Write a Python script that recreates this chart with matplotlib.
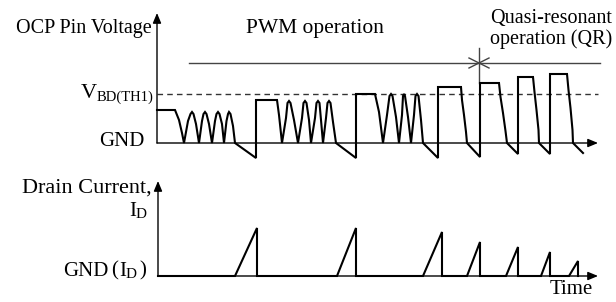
import matplotlib.pyplot as plt

plt.rcParams['font.family'] = ['Liberation Serif', 'DejaVu Serif']

# OCP pin voltage waveform, (x, y) in picture units, y grows downward
ocp_x = [157, 175, 179, 182, 184,
         188, 190.5, 192, 193.5, 196, 199,
         202, 203.5, 205, 206.5, 209, 212,
         215, 216.5, 218, 219.5, 222, 224,
         226.5, 228, 229, 230.5, 233, 235,
         256, 256, 277, 279, 282,
         286, 287.5, 289, 290.5, 294, 298,
         302, 303.5, 305, 306.5, 309, 311,
         315, 316.5, 318, 319.5, 321, 323,
         326, 327.5, 329, 330.5, 333, 336,
         356, 356, 375, 379, 383,
         387, 389.5, 391, 392.5, 396, 399,
         402, 403, 404, 405, 408, 411,
         414, 415.5, 417, 418.5, 421, 423,
         438, 438, 461, 462, 464, 466, 467,
         480, 480, 499, 500.5, 503, 505.5, 507,
         518, 518, 533, 534.5, 536.5, 538.5, 539,
         550, 550, 567, 568.5, 570.5, 572.5, 573, 583]
ocp_y = [110, 110, 120, 133, 143,
         121, 114, 112, 114, 124, 143,
         121, 114, 112, 114, 124, 143,
         121, 114, 112, 114, 124, 143,
         121, 114, 112, 114, 126, 143,
         158, 100, 100, 115, 143,
         118, 103, 101, 103, 120, 143,
         118, 103, 101, 103, 120, 143,
         118, 103, 101, 103, 120, 143,
         118, 103, 101, 103, 122, 143,
         158, 94, 94, 112, 143,
         115, 96, 94, 96, 117, 143,
         115, 96, 94, 96, 117, 143,
         115, 96, 94, 96, 120, 143,
         158, 87, 87, 100, 115, 132, 143,
         157, 83, 83, 97, 113, 131, 143,
         154, 77, 77, 92, 110, 130, 143,
         154, 74, 74, 90, 108, 130, 143, 153]

# Drain current waveform
id_x = [158, 235, 257, 257, 337, 356, 356, 423, 442, 442, 467, 480, 480, 506, 518, 518,
        541, 550, 550, 569, 578, 578]
id_y = [276, 276, 228, 276, 276, 228, 276, 276, 232, 276, 276, 242, 276, 276, 247, 276,
        276, 252, 276, 276, 261, 276]

gnd_top = 143
vbd = 93.5
gnd_bot = 276

fig = plt.figure(figsize=(6.16, 3.02), dpi=100)
ax = fig.add_axes([0, 0, 1, 1])
ax.set_xlim(0, 616)
ax.set_ylim(302, 0)
ax.axis('off')

arrow = dict(arrowstyle='-|>,head_length=0.6,head_width=0.25', color='black', lw=1,
             shrinkA=0, shrinkB=0)
# axes
ax.annotate('', xy=(157, 13), xytext=(157, gnd_top), arrowprops=arrow)
ax.annotate('', xy=(598, gnd_top), xytext=(157, gnd_top), arrowprops=arrow)
ax.annotate('', xy=(158, 181), xytext=(158, gnd_bot), arrowprops=arrow)
ax.annotate('', xy=(598, gnd_bot), xytext=(158, gnd_bot), arrowprops=arrow)

# threshold and region markers
ax.plot([157, 598], [vbd, vbd], color='#333333', lw=1, ls=(0, (4, 3)))
ax.plot([189, 600], [63, 63], color='#444444', lw=1)
ax.plot([479, 479], [48, 83], color='#444444', lw=1)
ax.plot([469, 479, 469], [58, 63, 68], color='#444444', lw=1)
ax.plot([489, 479, 489], [58, 63, 68], color='#444444', lw=1)

ax.plot(ocp_x, ocp_y, color='black', lw=1.5, solid_joinstyle='miter')
ax.plot(id_x, id_y, color='black', lw=1.5, solid_joinstyle='miter')

ax.text(152, 28, 'OCP Pin Voltage', fontsize=14.5, ha='right', va='center')
ax.text(315, 28, 'PWM operation', fontsize=15.5, ha='center', va='center')
ax.text(612, 18, 'Quasi-resonant', fontsize=14.5, ha='right', va='center')
ax.text(612, 39, 'operation (QR)', fontsize=14.5, ha='right', va='center')
ax.text(97, 93, 'V', fontsize=16, ha='right', va='center')
ax.text(97, 97, 'BD(TH1)', fontsize=10.5, ha='left', va='center')
ax.text(145, 142, 'GND', fontsize=15, ha='right', va='center')
ax.text(152, 188, 'Drain Current,', fontsize=16, ha='right', va='center')
ax.text(136, 211, 'I', fontsize=15, ha='right', va='center')
ax.text(136, 215, 'D', fontsize=11, ha='left', va='center')
ax.text(108, 271, 'GND', fontsize=15, ha='right', va='center')
ax.text(111, 271, '(', fontsize=15, ha='left', va='center')
ax.text(119, 271, 'I', fontsize=15, ha='left', va='center')
ax.text(126, 275, 'D', fontsize=11, ha='left', va='center')
ax.text(139, 271, ')', fontsize=15, ha='left', va='center')
ax.text(593, 289, 'Time', fontsize=15, ha='right', va='center')

fig.savefig('out.png', dpi=100)
